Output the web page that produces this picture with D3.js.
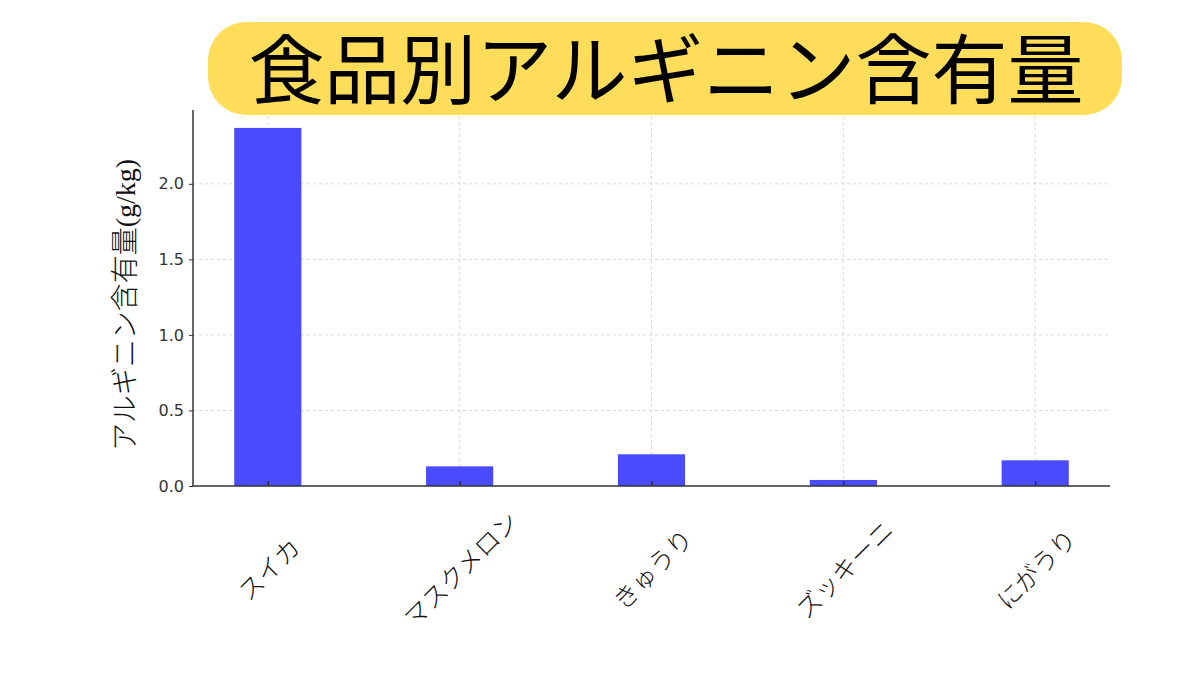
<!DOCTYPE html>
<html>
<head>
  <meta charset="utf-8">
  <title>食品別アルギニン含有量</title>
  <script src="https://cdn.jsdelivr.net/npm/d3@7"></script>
  <style>
    body { margin: 0; background: #fff; }
  </style>
</head>
<body>
  <div id="chart"></div>
  <script>
    // Daten
    var foods = ['スイカ', 'マスクメロン', 'きゅうり', 'ズッキーニ', 'にがうり'];
    var arginine = [2.37, 0.13, 0.21, 0.04, 0.17];
    var yTicks = [0.0, 0.5, 1.0, 1.5, 2.0];

    var title = '食品別アルギニン含有量';
    var yLabel = 'アルギニン含有量(g/kg)';

    var width = 1200, height = 675;
    var plot = { left: 193, right: 1110, top: 110, bottom: 486 };

    var svg = d3.select('#chart').append('svg')
      .attr('width', width)
      .attr('height', height);

    // Skalen
    var x = d3.scalePoint()
      .domain(foods)
      .range([plot.left, plot.right])
      .padding(0.39);

    var y = d3.scaleLinear()
      .domain([0, d3.max(arginine) * 1.05])
      .range([plot.bottom, plot.top]);

    var barW = x.step() * 0.35;

    // Gitternetz
    svg.append('g').selectAll('line')
      .data(yTicks.slice(1))
      .enter().append('line')
        .attr('x1', plot.left).attr('x2', plot.right)
        .attr('y1', function (d) { return y(d); })
        .attr('y2', function (d) { return y(d); })
        .attr('stroke', '#cfcfcf')
        .attr('stroke-width', 0.8)
        .attr('stroke-dasharray', '3,3');

    svg.append('g').selectAll('line')
      .data(foods)
      .enter().append('line')
        .attr('x1', function (d) { return x(d); })
        .attr('x2', function (d) { return x(d); })
        .attr('y1', plot.top).attr('y2', plot.bottom)
        .attr('stroke', '#cfcfcf')
        .attr('stroke-width', 0.8)
        .attr('stroke-dasharray', '3,3');

    // Balken
    svg.append('g').selectAll('rect')
      .data(foods)
      .enter().append('rect')
        .attr('x', function (d) { return x(d) - barW / 2; })
        .attr('y', function (d, i) { return y(arginine[i]); })
        .attr('width', barW)
        .attr('height', function (d, i) { return plot.bottom - y(arginine[i]); })
        .attr('fill', '#4a4aff');

    // x-Achse (Ticks nach innen)
    var xAxis = svg.append('g')
      .attr('transform', 'translate(0,' + plot.bottom + ')')
      .call(d3.axisTop(x).tickSize(5).tickFormat(''));
    xAxis.select('.domain').remove();
    xAxis.selectAll('.tick line').attr('stroke', '#222').attr('stroke-width', 1.2);

    svg.append('g').selectAll('text')
      .data(foods)
      .enter().append('text')
        .attr('transform', function (d) {
          return 'translate(' + x(d) + ',568) rotate(-45)';
        })
        .attr('text-anchor', 'middle')
        .attr('dominant-baseline', 'central')
        .attr('font-family', '"Noto Sans CJK JP", sans-serif')
        .attr('font-size', 25)
        .attr('font-weight', 300)
        .attr('fill', '#111')
        .text(function (d) { return d; });

    // y-Achse
    var yAxis = svg.append('g')
      .attr('transform', 'translate(' + plot.left + ',0)')
      .call(d3.axisLeft(y).tickValues(yTicks).tickSize(4).tickPadding(5)
        .tickFormat(d3.format('.1f')));
    yAxis.select('.domain').remove();
    yAxis.selectAll('.tick line').attr('stroke', '#333');
    yAxis.selectAll('.tick text')
      .attr('font-family', '"DejaVu Sans", sans-serif')
      .attr('font-size', 16)
      .attr('fill', '#333');

    // Achsenlinien
    svg.append('line')
      .attr('x1', plot.left).attr('x2', plot.left)
      .attr('y1', plot.top).attr('y2', plot.bottom)
      .attr('stroke', '#333').attr('stroke-width', 1.5);
    svg.append('line')
      .attr('x1', plot.left).attr('x2', plot.right)
      .attr('y1', plot.bottom).attr('y2', plot.bottom)
      .attr('stroke', '#333').attr('stroke-width', 1.5);

    // y-Achsenbeschriftung
    svg.append('text')
      .attr('transform', 'translate(125,305) rotate(-90)')
      .attr('text-anchor', 'middle')
      .attr('dominant-baseline', 'central')
      .attr('font-family', '"Liberation Serif", "Noto Sans CJK JP", serif')
      .attr('font-size', 28)
      .attr('font-weight', 300)
      .attr('fill', '#111')
      .text(yLabel);

    // Titel mit gelbem Hintergrund
    svg.append('rect')
      .attr('x', 208).attr('y', 22)
      .attr('width', 914).attr('height', 93)
      .attr('rx', 38).attr('ry', 38)
      .attr('fill', '#fedd5a');

    svg.append('text')
      .attr('x', 666).attr('y', 65)
      .attr('text-anchor', 'middle')
      .attr('dominant-baseline', 'central')
      .attr('font-family', '"Noto Sans CJK JP", sans-serif')
      .attr('font-size', 76)
      .attr('font-weight', 400)
      .attr('fill', '#000')
      .text(title);
  </script>
</body>
</html>
